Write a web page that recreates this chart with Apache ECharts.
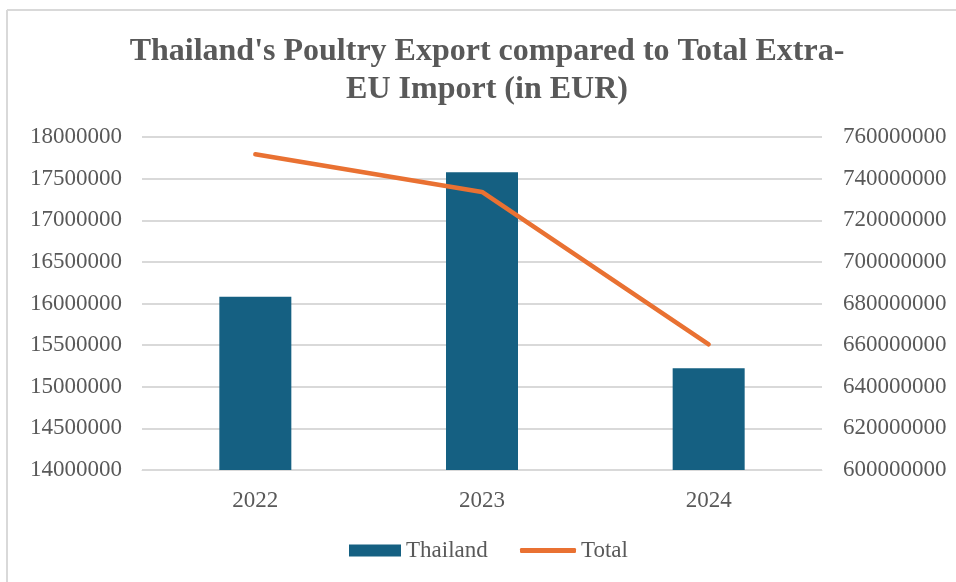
<!DOCTYPE html>
<html>
<head>
<meta charset="utf-8">
<script src="https://cdn.jsdelivr.net/npm/echarts@6/dist/echarts.min.js"></script>
<style>
html,body{margin:0;padding:0;background:#fff;}
#c{width:956px;height:582px;}
</style>
</head>
<body>
<div id="c"></div>
<script>
const categories = ['2022', '2023', '2024'];
const thailand = [16081000, 17577000, 15223000];
const total = [751700000, 733600000, 660400000];
const leftTicks = { min: 14000000, max: 18000000, interval: 500000 };
const rightTicks = { min: 600000000, max: 760000000, interval: 20000000 };
const titleText = "Thailand's Poultry Export compared to Total Extra-\nEU Import (in EUR)";

const font = "'Liberation Serif', 'Times New Roman', serif";
const txt = '#595959';
const plain = v => String(v);
const chart = echarts.init(document.getElementById('c'), null, { renderer: 'canvas' });
chart.setOption({
  animation: false,
  backgroundColor: '#fff',
  graphic: [
    { type: 'line', shape: { x1: 7, y1: 10, x2: 956, y2: 10 }, style: { stroke: '#d9d9d9', lineWidth: 2 } },
    { type: 'line', shape: { x1: 7, y1: 10, x2: 7, y2: 582 }, style: { stroke: '#d9d9d9', lineWidth: 2 } }
  ],
  title: {
    text: titleText,
    left: 482, top: 28, textAlign: 'center',
    textStyle: { fontFamily: font, fontWeight: 'bold', fontSize: 32, color: txt, lineHeight: 38 }
  },
  legend: [
    {
      left: 344, bottom: 15,
      itemWidth: 52, itemHeight: 12,
      textStyle: { fontFamily: font, fontSize: 23, color: txt },
      data: [{ name: 'Thailand', icon: 'rect' }]
    },
    {
      left: 515, bottom: 15,
      itemWidth: 56, itemHeight: 5,
      textStyle: { fontFamily: font, fontSize: 23, color: txt },
      data: [{ name: 'Total', icon: 'roundRect' }]
    }
  ],
  grid: { left: 142, right: 134, top: 137, bottom: 112, containLabel: false },
  xAxis: {
    type: 'category', data: categories,
    axisLine: { lineStyle: { color: '#d9d9d9', width: 1 } },
    axisTick: { show: false },
    axisLabel: { fontFamily: font, fontSize: 23, color: txt, margin: 19 }
  },
  yAxis: [
    {
      type: 'value', min: leftTicks.min, max: leftTicks.max, interval: leftTicks.interval,
      axisLine: { show: false }, axisTick: { show: false },
      axisLabel: { fontFamily: font, fontSize: 23, color: txt, margin: 20, formatter: plain },
      splitLine: { lineStyle: { color: '#d9d9d9', width: 2 } }
    },
    {
      type: 'value', min: rightTicks.min, max: rightTicks.max, interval: rightTicks.interval,
      axisLine: { show: false }, axisTick: { show: false },
      axisLabel: { fontFamily: font, fontSize: 23, color: txt, margin: 21, formatter: plain },
      splitLine: { show: false }
    }
  ],
  series: [
    {
      name: 'Thailand', type: 'bar', data: thailand, yAxisIndex: 0,
      barWidth: 72,
      itemStyle: { color: '#156082' }
    },
    {
      name: 'Total', type: 'line', data: total, yAxisIndex: 1,
      symbol: 'none', showSymbol: false,
      lineStyle: { color: '#E97132', width: 4.5, cap: 'round', join: 'round' },
      itemStyle: { color: '#E97132' }
    }
  ]
});
</script>
</body>
</html>
